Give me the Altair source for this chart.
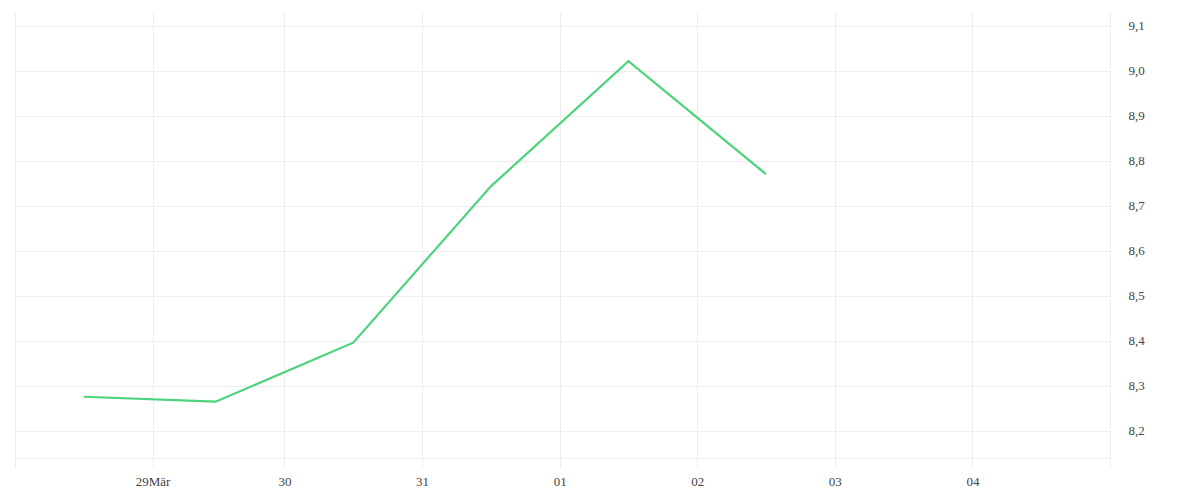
import altair as alt
import pandas as pd

# Data (local Berlin time, DST begins 29 March)
dates = [
    "2020-03-28T12:00:00+01:00",
    "2020-03-29T12:00:00+02:00",
    "2020-03-30T12:00:00+02:00",
    "2020-03-31T12:00:00+02:00",
    "2020-04-01T12:00:00+02:00",
    "2020-04-02T12:00:00+02:00",
]
values = [8.276, 8.265, 8.396, 8.743, 9.021, 8.770]

tick_dates = [
    "2020-03-28T00:00:00+01:00",
    "2020-03-29T00:00:00+01:00",
    "2020-03-30T00:00:00+02:00",
    "2020-03-31T00:00:00+02:00",
    "2020-04-01T00:00:00+02:00",
    "2020-04-02T00:00:00+02:00",
    "2020-04-03T00:00:00+02:00",
    "2020-04-04T00:00:00+02:00",
    "2020-04-05T00:00:00+02:00",
]
tick_labels = ["", "29Mär", "30", "31", "01", "02", "03", "04", ""]

y_ticks = [8.2, 8.3, 8.4, 8.5, 8.6, 8.7, 8.8, 8.9, 9.0, 9.1]
y_labels = ["8,2", "8,3", "8,4", "8,5", "8,6", "8,7", "8,8", "8,9", "9,0", "9,1"]
y_domain = [8.14, 9.13]


def ms(s):
    return int(pd.Timestamp(s).value // 10**6)


df = pd.DataFrame({"t": [ms(d) for d in dates], "v": values})
tick_ms = [ms(d) for d in tick_dates]

x_expr = " : ".join(
    f"abs(time(datum.value) - {m}) < 60000 ? '{lab}'" for m, lab in zip(tick_ms, tick_labels)
) + " : ''"
y_expr = " : ".join(
    f"abs(datum.value - {v}) < 0.001 ? '{lab}'" for v, lab in zip(y_ticks, y_labels)
) + " : ''"

FONT = "Liberation Serif"
GRID = "#eeeeee"
TEXT = "#444444"

chart = (
    alt.Chart(df)
    .mark_line(color="#4cd37b", strokeWidth=2.2)
    .encode(
        x=alt.X(
            "t:T",
            scale=alt.Scale(type="utc", domain=[tick_ms[0], tick_ms[-1]]),
            axis=alt.Axis(
                values=tick_ms,
                labelExpr=x_expr,
                title=None,
                grid=True,
                gridColor=GRID,
                gridWidth=1,
                tickColor=GRID,
                tickSize=10,
                domainColor=GRID,
                labelFont=FONT,
                labelFontSize=13,
                labelColor=TEXT,
                labelPadding=7,
                labelFlush=False,
                labelOverlap=False,
            ),
        ),
        y=alt.Y(
            "v:Q",
            scale=alt.Scale(domain=y_domain, nice=False, zero=False),
            axis=alt.Axis(
                orient="right",
                values=y_ticks,
                labelExpr=y_expr,
                title=None,
                grid=True,
                gridColor=GRID,
                gridWidth=1,
                ticks=False,
                tickSize=0,
                domainColor=GRID,
                labelFont=FONT,
                labelFontSize=13,
                labelColor=TEXT,
                labelPadding=18,
                labelAlign="left",
                labelFlush=False,
                labelOverlap=False,
            ),
        ),
    )
    .properties(
        width=1095,
        height=446,
        padding={"left": 6, "top": 4, "right": 5, "bottom": 5},
        background="white",
    )
    .configure_view(strokeWidth=0)
)

chart.save("out.html", embed_options={"renderer": "svg", "actions": False})
